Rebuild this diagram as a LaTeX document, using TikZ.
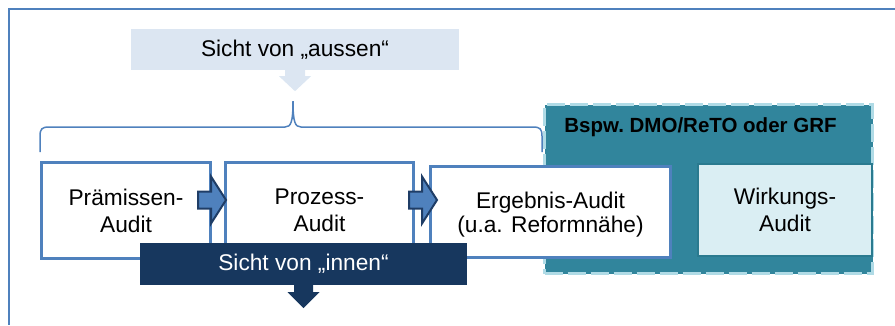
\documentclass[tikz,border=0pt]{standalone}
\usepackage{fontspec}
\setmainfont{Liberation Sans}
\usepackage{tikz}
\usetikzlibrary{calc}

\definecolor{frameblue}{HTML}{4F81BD}
\definecolor{paleblue}{HTML}{DCE6F2}
\definecolor{darknavy}{HTML}{17375E}
\definecolor{arrowline}{HTML}{1F3D66}
\definecolor{tealbg}{HTML}{31859C}
\definecolor{tealdash}{HTML}{B0DBE6}
\definecolor{wirkfill}{HTML}{DAEEF3}
\definecolor{wirkline}{HTML}{2A7A8F}

\begin{document}
\begin{tikzpicture}[x=1pt,y=-1pt,
  txt/.style={font=\fontsize{22.7}{27}\selectfont,align=center,inner sep=0pt},
  audit/.style={txt,draw=frameblue,line width=3pt,fill=white},
  blockarrow/.style={draw=arrowline,fill=frameblue,line width=2pt,line join=miter}]
 \useasboundingbox (0,0) rectangle (895,325);
 \draw[frameblue,line width=1.5pt] (895,9) -- (9,9) -- (9,325);

 \draw (295,49.5) node[txt,fill=paleblue,minimum width=328pt,minimum height=41pt] (aussen) {Sicht von „aussen“};
 \fill[paleblue] ($(aussen.south)+(-10,0)$) -- ++(0,6) -- ++(-6,0) -- ++(16,15) -- ++(16,-15) -- ++(-6,0) -- ++(0,-6) -- cycle;

 \draw (708.5,189) node[draw=tealdash,fill=tealbg,line width=3pt,dash pattern=on 18pt off 5pt,minimum width=328pt,minimum height=169pt] (grp) {};
 \draw (700.5,132) node[anchor=base,font=\bfseries\fontsize{20.5}{24}\selectfont] (bspw) {Bspw.\ DMO/ReTO oder GRF};

 \draw[frameblue,line width=1.5pt] (40,152) -- (40,136) .. controls (40,129) and (42,127) .. (49,127) -- (285,127)
   .. controls (291,127) and (293,122) .. (293,101) .. controls (293,122) and (295,127) .. (301,127) -- (533,127)
   .. controls (540,127) and (542,129) .. (542,136) -- (542,152);

 \draw (785,210) node[txt,fill=wirkfill,draw=wirkline,line width=2pt,minimum width=174pt,minimum height=92pt] (wirk) {Wirkungs-\\Audit};

 \draw (126,210.5) node[audit,minimum width=169pt,minimum height=96pt] (prem) {Prämissen-\\Audit};
 \draw (319.5,210.5) node[audit,minimum width=188pt,minimum height=96pt] (proz) {Prozess-\\Audit};
 \draw (550.5,212) node[audit,minimum width=240pt,minimum height=91pt,font=\fontsize{22.7}{24}\selectfont,text depth=0pt] (ergeb) {Ergebnis-Audit\\(u.a. Reformnähe)};

 \draw[blockarrow] ($(proz.west)+(2,-10.5)$) coordinate (pfeilA) -- ++(-15,-23.5) -- ++(0,15) -- ++(-13,0) -- ++(0,17) -- ++(13,0) -- ++(0,15) -- cycle;
 \draw[blockarrow] ($(ergeb.west)+(8,-12)$) coordinate (pfeilB) -- ++(-15,-23.5) -- ++(0,15) -- ++(-13,0) -- ++(0,17) -- ++(13,0) -- ++(0,15) -- cycle;

 \draw (303.5,264) node[txt,fill=darknavy,text=white,minimum width=327pt,minimum height=42pt] (innen) {Sicht von „innen“};
 \fill[darknavy] ($(innen.south)+(-9.5,0)$) -- ++(0,7) -- ++(-6.5,0) -- ++(16,16) -- ++(16,-16) -- ++(-6.5,0) -- ++(0,-7) -- cycle;

\end{tikzpicture}
\end{document}
